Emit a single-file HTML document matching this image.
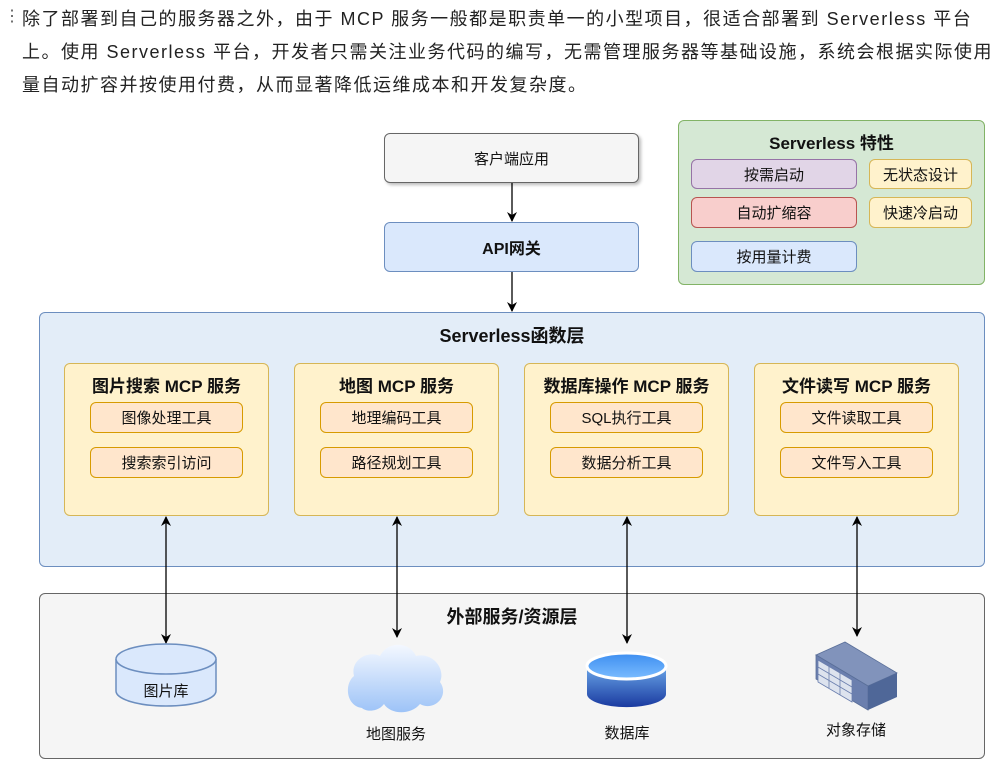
<!DOCTYPE html>
<html><head><meta charset="utf-8"><style>
body{margin:0;width:1002px;height:774px;background:#fff;position:relative;overflow:hidden;font-family:"Liberation Sans","Noto Sans CJK SC",sans-serif;}
.t{position:absolute;left:22px;font-size:18px;color:#222;white-space:nowrap;letter-spacing:1.5px}
.b{position:absolute;box-sizing:border-box;display:flex;align-items:center;justify-content:center;font-size:15px;color:#111;border-radius:6px}
.ttl{position:absolute;font-weight:bold;font-size:17px;color:#111;text-align:center;white-space:nowrap}
</style></head><body>
<div style="position:absolute;left:4px;top:6px;font-size:16px;color:#555">⋮</div>
<div class="t" style="top:5px">除了部署到自己的服务器之外，由于 MCP 服务一般都是职责单一的小型项目，很适合部署到 Serverless 平台</div>
<div class="t" style="top:38px">上。使用 Serverless 平台，开发者只需关注业务代码的编写，无需管理服务器等基础设施，系统会根据实际使用</div>
<div class="t" style="top:71px">量自动扩容并按使用付费，从而显著降低运维成本和开发复杂度。</div>

<div class="b" style="left:384px;top:133px;width:255px;height:50px;background:#f5f5f5;border:1.5px solid #666;box-shadow:2px 2px 3px #bbb">客户端应用</div>
<div class="b" style="left:384px;top:222px;width:255px;height:50px;background:#dae8fc;border:1.5px solid #6c8ebf;font-weight:bold;font-size:16px">API网关</div>

<div class="b" style="left:678px;top:120px;width:307px;height:165px;background:#d5e8d4;border:1.5px solid #82b366"></div>
<div class="ttl" style="left:678px;width:307px;top:129px">Serverless 特性</div>
<div class="b" style="left:691px;top:159px;width:166px;height:30px;background:#e1d5e7;border:1.5px solid #9673a6">按需启动</div>
<div class="b" style="left:869px;top:159px;width:103px;height:30px;background:#fff2cc;border:1.5px solid #d6b656">无状态设计</div>
<div class="b" style="left:691px;top:197px;width:166px;height:31px;background:#f8cecc;border:1.5px solid #b85450">自动扩缩容</div>
<div class="b" style="left:869px;top:197px;width:103px;height:31px;background:#fff2cc;border:1.5px solid #d6b656">快速冷启动</div>
<div class="b" style="left:691px;top:241px;width:166px;height:31px;background:#dae8fc;border:1.5px solid #6c8ebf">按用量计费</div>

<div class="b" style="left:39px;top:312px;width:946px;height:255px;background:#e3edf8;border:1.5px solid #6c8ebf"></div>
<div class="ttl" style="left:39px;width:946px;top:322px;font-size:18px">Serverless函数层</div>

<div class="b" style="left:64px;top:363px;width:205px;height:153px;background:#fff2cc;border:1.5px solid #d6b656"></div>
<div class="ttl" style="left:64px;width:205px;top:372px">图片搜索 MCP 服务</div>
<div class="b" style="left:90px;top:402px;width:153px;height:31px;background:#ffe6cc;border:1.5px solid #d79b00">图像处理工具</div>
<div class="b" style="left:90px;top:447px;width:153px;height:31px;background:#ffe6cc;border:1.5px solid #d79b00">搜索索引访问</div>

<div class="b" style="left:294px;top:363px;width:205px;height:153px;background:#fff2cc;border:1.5px solid #d6b656"></div>
<div class="ttl" style="left:294px;width:205px;top:372px">地图 MCP 服务</div>
<div class="b" style="left:320px;top:402px;width:153px;height:31px;background:#ffe6cc;border:1.5px solid #d79b00">地理编码工具</div>
<div class="b" style="left:320px;top:447px;width:153px;height:31px;background:#ffe6cc;border:1.5px solid #d79b00">路径规划工具</div>

<div class="b" style="left:524px;top:363px;width:205px;height:153px;background:#fff2cc;border:1.5px solid #d6b656"></div>
<div class="ttl" style="left:524px;width:205px;top:372px">数据库操作 MCP 服务</div>
<div class="b" style="left:550px;top:402px;width:153px;height:31px;background:#ffe6cc;border:1.5px solid #d79b00">SQL执行工具</div>
<div class="b" style="left:550px;top:447px;width:153px;height:31px;background:#ffe6cc;border:1.5px solid #d79b00">数据分析工具</div>

<div class="b" style="left:754px;top:363px;width:205px;height:153px;background:#fff2cc;border:1.5px solid #d6b656"></div>
<div class="ttl" style="left:754px;width:205px;top:372px">文件读写 MCP 服务</div>
<div class="b" style="left:780px;top:402px;width:153px;height:31px;background:#ffe6cc;border:1.5px solid #d79b00">文件读取工具</div>
<div class="b" style="left:780px;top:447px;width:153px;height:31px;background:#ffe6cc;border:1.5px solid #d79b00">文件写入工具</div>

<div class="b" style="left:39px;top:593px;width:946px;height:166px;background:#f5f5f5;border:1.5px solid #666"></div>
<div class="ttl" style="left:39px;width:946px;top:603px;font-size:18px">外部服务/资源层</div>

<svg style="position:absolute;left:0;top:0" width="1002" height="774">
<defs>
<marker id="a" markerWidth="10" markerHeight="10" refX="9" refY="5" orient="auto-start-reverse" markerUnits="userSpaceOnUse"><path d="M0,0 L10,5 L0,10 L3,5z" fill="#000"/></marker>
<linearGradient id="cl" x1="0" y1="0" x2="0" y2="1"><stop offset="0" stop-color="#f4f8ff"/><stop offset="1" stop-color="#9dc3f7"/></linearGradient>
<linearGradient id="db" x1="0" y1="0" x2="0" y2="1"><stop offset="0" stop-color="#6aa6e8"/><stop offset="1" stop-color="#1a3aa0"/></linearGradient>
<linearGradient id="dt" x1="0" y1="0" x2="0" y2="1"><stop offset="0" stop-color="#3d8ef0"/><stop offset="1" stop-color="#7bbcff"/></linearGradient>
</defs>
<g stroke="#000" stroke-width="1.3" fill="none">
<line x1="512" y1="183" x2="512" y2="221" marker-end="url(#a)"/>
<line x1="512" y1="272" x2="512" y2="311" marker-end="url(#a)"/>
<line x1="166" y1="517" x2="166" y2="643" marker-start="url(#a)" marker-end="url(#a)"/>
<line x1="397" y1="517" x2="397" y2="637" marker-start="url(#a)" marker-end="url(#a)"/>
<line x1="627" y1="517" x2="627" y2="643" marker-start="url(#a)" marker-end="url(#a)"/>
<line x1="857" y1="517" x2="857" y2="636" marker-start="url(#a)" marker-end="url(#a)"/>
</g>
<path d="M116,659 L116,691 A50,15 0 0 0 216,691 L216,659" fill="#dae8fc" stroke="#6c8ebf" stroke-width="1.5"/>
<ellipse cx="166" cy="659" rx="50" ry="15" fill="#dae8fc" stroke="#6c8ebf" stroke-width="1.5"/>
<path d="M362,708 C346,706 344,684 354,676 C350,660 368,650 380,656 C388,640 410,642 416,656 C432,652 446,668 440,682 C450,696 434,712 420,704 C410,716 390,714 384,704 C378,712 366,712 362,708z" fill="url(#cl)"/>
<path d="M587,666 L587,694 A39,13 0 0 0 666,694 L666,666z" fill="url(#db)"/>
<ellipse cx="626.5" cy="666" rx="39.5" ry="13" fill="url(#dt)" stroke="#fff" stroke-width="3"/>
<polygon points="816,655 845,642 897,673 868,686" fill="#8193bb" stroke="#5a6f99" stroke-width="0.8"/>
<polygon points="816,655 868,686 868,710 816,679" fill="#6b7fae" stroke="#5a6f99" stroke-width="0.8"/>
<polygon points="868,686 897,673 897,697 868,710" fill="#4f6798"/>
<g fill="#dde3ee" stroke="#6b7fae" stroke-width="0.8">
<polygon points="818,660 852,680 852,702 818,682"/>
<line x1="818" y1="667" x2="852" y2="687"/><line x1="818" y1="674" x2="852" y2="694"/>
<line x1="829" y1="666" x2="829" y2="688"/><line x1="840" y1="673" x2="840" y2="695"/>
</g>
</svg>
<div class="b" style="left:116px;top:680px;width:100px;height:20px">图片库</div>
<div class="b" style="left:346px;top:723px;width:100px;height:20px">地图服务</div>
<div class="b" style="left:577px;top:722px;width:100px;height:20px">数据库</div>
<div class="b" style="left:806px;top:719px;width:100px;height:20px">对象存储</div>
</body></html>
